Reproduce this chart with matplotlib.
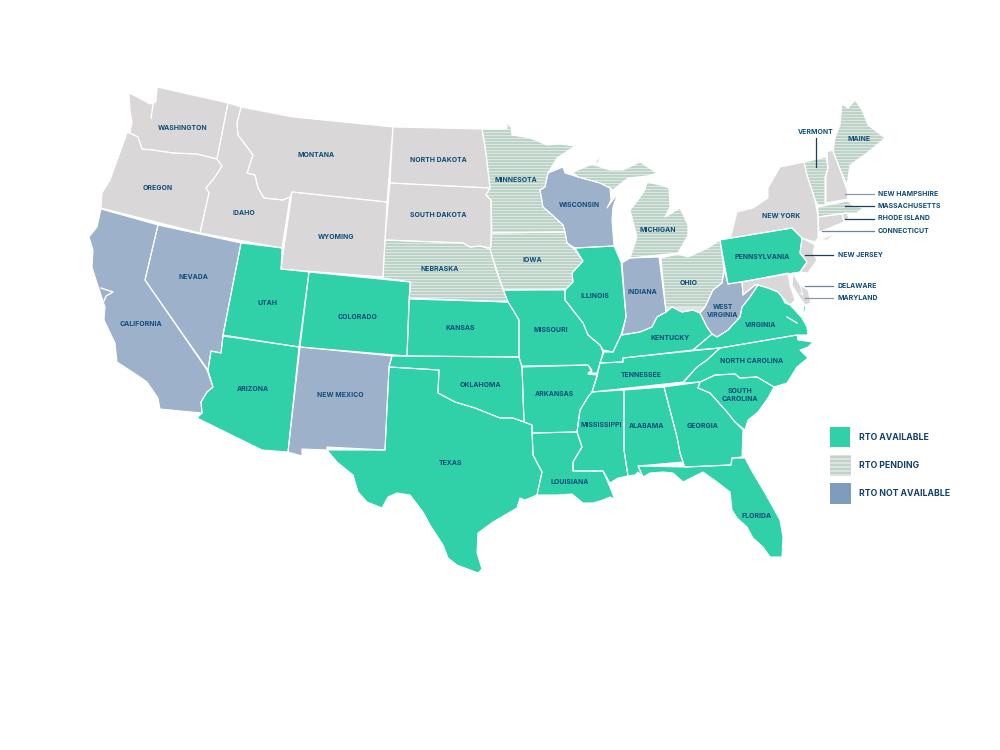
import matplotlib
matplotlib.use('Agg')
import matplotlib.pyplot as plt
from matplotlib.patches import Polygon, Rectangle

# state outlines, in image pixels
WASHINGTON = [(157,87),(228,103),(217,159),(197,154),(173,153),(153,150),(142,149),(138,137),(130,133),(131,127),(132,123),(130,110),(129,93),(139,98),(150,104),(156,102)]
OREGON = [(130,133),(138,137),(142,149),(153,150),(173,153),(197,154),(217,159),(222,166),(215,177),(206,188),(209,193),(200,233),(101,208),(102,193),(110,180),(122,147),(127,133)]
IDAHO = [(228,103),(241,107),(237,123),(238,135),(253,155),(247,173),(255,175),(258,188),(264,198),(283,200),(290,197),(282,248),(200,233),(209,193),(206,188),(215,177),(222,166),(217,159)]
MONTANA = [(241,107),(293,117),(393,127),(387,202),(292,192),(290,197),(283,200),(264,198),(258,188),(255,175),(247,173),(253,155),(238,135),(237,123)]
WYOMING = [(292,192),(387,202),(383,277),(281,269)]
NORTH_DAKOTA = [(393,127),(482,129),(486,153),(490,188),(390,183)]
SOUTH_DAKOTA = [(390,183),(490,188),(486,195),(491,200),(491,248),(480,246),(470,247),(463,243),(385,240)]
NEBRASKA = [(385,240),(463,243),(470,247),(480,246),(490,249),(500,280),(508,302),(409,298),(411,282),(383,278)]
MINNESOTA = [(482,129),(507,129),(507,123),(511,127),(512,135),(530,138),(547,145),(560,144),(575,146),(557,158),(548,173),(545,187),(540,190),(543,207),(550,213),(563,225),(565,232),(492,233),(491,200),(486,195),(490,188),(486,153)]
IOWA = [(492,233),(565,232),(567,243),(575,250),(583,261),(572,273),(573,282),(565,290),(503,290),(495,267),(490,249)]
WISCONSIN = [(548,173),(563,167),(565,173),(578,177),(600,183),(610,188),(611,200),(607,208),(618,193),(613,207),(612,220),(614,246),(575,248),(567,243),(565,232),(563,225),(550,213),(543,207),(540,190),(545,187)]
MICHIGAN_UP = [(573,172),(590,165),(598,163),(602,152),(594,165),(610,170),(623,170),(640,162),(657,173),(647,176),(628,178),(613,190),(610,188),(600,183),(578,177)]
MICHIGAN_LP = [(647,182),(660,185),(669,188),(670,207),(665,217),(680,208),(688,225),(688,235),(678,253),(630,258),(637,237),(630,210),(638,200),(645,190)]
ILLINOIS = [(575,248),(614,246),(621,262),(626,317),(621,335),(613,352),(603,350),(600,345),(588,335),(583,323),(565,300),(565,290),(573,282),(572,273),(583,261)]
INDIANA = [(622,263),(630,258),(659,257),(666,312),(657,317),(652,327),(640,332),(622,335),(626,317)]
OHIO = [(661,258),(678,254),(688,257),(708,248),(720,240),(724,270),(722,283),(713,290),(705,307),(700,313),(693,310),(682,312),(672,307),(666,312)]
KENTUCKY = [(621,335),(640,332),(652,327),(657,317),(666,312),(672,307),(682,312),(693,310),(700,313),(707,327),(712,334),(693,350),(623,358),(623,362),(600,363),(604,352),(613,352)]
TENNESSEE = [(600,363),(623,362),(623,358),(720,348),(707,360),(697,367),(683,382),(592,392),(597,377)]
NORTH_CAROLINA = [(720,348),(797,335),(798,340),(813,342),(808,347),(800,350),(808,358),(797,367),(787,383),(774,387),(757,377),(740,378),(735,374),(715,375),(700,382),(683,383),(697,367),(707,360)]
VIRGINIA = [(693,350),(712,334),(717,337),(728,330),(740,317),(742,307),(750,297),(758,285),(768,288),(778,292),(782,297),(792,307),(802,318),(807,327),(808,335),(797,335),(720,348)]
VA_TIP = [(804,306),(806,306),(804,314),(803,311)]
WEST_VIRGINIA = [(724,270),(728,284),(742,282),(743,295),(755,285),(758,285),(750,297),(742,307),(740,317),(728,330),(717,337),(712,334),(707,327),(700,313),(705,307),(713,290),(722,283)]
PENNSYLVANIA = [(720,240),(792,228),(802,238),(800,253),(807,262),(800,272),(728,284)]
MARYLAND = [(742,282),(788,273),(790,285),(795,300),(790,305),(785,303),(782,297),(778,292),(768,288),(758,285),(755,285),(743,295)]
DELMARVA = [(793,273),(800,285),(808,290),(811,303),(805,305),(798,295),(792,285)]
NEW_JERSEY = [(802,238),(815,245),(813,253),(817,260),(808,273),(800,272),(807,262),(800,253)]
NEW_YORK = [(730,238),(732,232),(737,212),(753,208),(768,198),(768,188),(780,167),(804,162),(807,175),(815,200),(818,217),(818,238),(815,242),(802,238),(792,228)]
LONG_ISLAND = [(820,240),(838,232),(827,240)]
VERMONT = [(804,162),(826,157),(828,168),(825,177),(825,205),(818,205),(815,200),(807,175)]
NEW_HAMPSHIRE = [(827,152),(833,150),(847,190),(848,199),(826,203),(826,177),(828,168)]
MAINE = [(842,104),(848,108),(855,100),(862,110),(868,125),(885,138),(867,153),(850,165),(847,185),(833,152),(835,138),(840,125)]
MASSACHUSETTS = [(818,207),(848,201),(852,205),(863,208),(857,213),(845,213),(818,217)]
CONNECTICUT = [(818,217),(842,214),(844,222),(822,231),(819,232)]
RHODE_ISLAND = [(842,214),(847,213),(849,218),(844,222)]
CALIFORNIA = [(101,209),(158,225),(145,280),(207,370),(213,387),(207,392),(201,402),(202,413),(160,409),(158,398),(147,382),(137,375),(117,362),(115,343),(104,320),(105,307),(97,283),(92,267),(93,250),(89,237),(97,227)]
NEVADA = [(158,225),(241,243),(223,335),(221,353),(211,351),(208,370),(145,280)]
UTAH = [(241,243),(282,248),(281,269),(309,272),(299,347),(223,335)]
COLORADO = [(309,272),(410,282),(407,356),(300,347)]
ARIZONA = [(223,336),(299,347),(288,452),(262,450),(197,418),(202,413),(201,402),(207,392),(213,387),(208,370),(211,351),(221,353)]
NEW_MEXICO = [(300,347),(392,356),(389,367),(385,450),(327,447),(327,450),(302,449),(302,456),(288,452)]
TEXAS = [(389,367),(439,370),(438,393),(455,402),(475,408),(500,418),(513,418),(524,422),(532,425),(533,455),(542,472),(537,495),(525,500),(520,498),(517,508),(493,522),(478,533),(477,553),(482,569),(478,573),(457,565),(448,558),(443,545),(430,525),(423,512),(410,495),(397,493),(388,497),(382,508),(367,502),(358,492),(353,475),(337,462),(327,450),(385,450)]
OKLAHOMA = [(392,356),(519,357),(522,367),(524,422),(513,418),(500,418),(475,408),(455,402),(438,393),(439,370),(389,367)]
KANSAS = [(409,299),(508,302),(513,310),(519,320),(519,357),(407,356)]
MISSOURI = [(503,290),(565,289),(565,300),(583,323),(588,335),(600,345),(603,352),(600,363),(597,373),(588,373),(592,370),(588,365),(522,367),(519,357),(519,320),(513,310),(508,302)]
ARKANSAS = [(522,366),(588,365),(592,372),(588,374),(597,375),(592,392),(588,397),(580,410),(577,432),(532,433),(532,425),(524,422)]
LOUISIANA = [(532,433),(577,432),(582,447),(573,462),(573,471),(603,471),(610,487),(615,500),(621,502),(610,497),(603,500),(593,503),(583,503),(572,494),(557,495),(537,495),(542,472),(533,455)]
MISSISSIPPI = [(592,392),(624,390),(624,450),(628,476),(618,478),(610,483),(603,471),(573,471),(573,462),(582,447),(577,432),(580,410),(588,397)]
ALABAMA = [(624,390),(664,387),(677,437),(680,453),(683,462),(638,466),(643,477),(638,472),(635,475),(628,476),(624,450)]
GEORGIA = [(664,387),(700,382),(698,388),(710,393),(727,412),(735,422),(743,430),(742,457),(732,458),(731,465),(685,467),(683,462),(680,453),(677,437)]
SOUTH_CAROLINA = [(700,382),(715,375),(735,374),(740,378),(757,377),(774,387),(768,398),(758,412),(748,420),(745,430),(735,422),(727,412),(710,393),(698,388)]
FLORIDA = [(638,466),(685,467),(731,465),(732,458),(745,458),(753,473),(765,493),(780,520),(783,537),(782,557),(770,557),(763,547),(753,538),(747,527),(737,518),(732,510),(730,492),(717,482),(703,472),(683,482),(673,473),(663,472),(650,473),(643,477)]

available = [UTAH, COLORADO, ARIZONA, TEXAS, OKLAHOMA, KANSAS, MISSOURI, ARKANSAS, LOUISIANA, MISSISSIPPI,
             ALABAMA, GEORGIA, SOUTH_CAROLINA, NORTH_CAROLINA, FLORIDA, TENNESSEE, KENTUCKY, ILLINOIS,
             VIRGINIA, VA_TIP, PENNSYLVANIA]
pending = [MINNESOTA, IOWA, NEBRASKA, MICHIGAN_UP, MICHIGAN_LP, OHIO, VERMONT, MAINE, MASSACHUSETTS]
not_available = [CALIFORNIA, NEVADA, NEW_MEXICO, WISCONSIN, INDIANA, WEST_VIRGINIA]
other = [WASHINGTON, OREGON, IDAHO, MONTANA, WYOMING, NORTH_DAKOTA, SOUTH_DAKOTA, NEW_YORK, LONG_ISLAND,
         NEW_HAMPSHIRE, CONNECTICUT, RHODE_ISLAND, NEW_JERSEY, MARYLAND, DELMARVA]

map_labels = [('WASHINGTON',183,128),('OREGON',158,188),('IDAHO',244,213),('MONTANA',316,155),('WYOMING',336,237),
              ('NORTH DAKOTA',438,160),('SOUTH DAKOTA',438,215),('NEBRASKA',440,269),('MINNESOTA',516,180),('IOWA',532,260),
              ('WISCONSIN',579,205),('MICHIGAN',658,230),('ILLINOIS',595,296),('INDIANA',642,292),('OHIO',689,283),
              ('KENTUCKY',670,338),('TENNESSEE',641,375),('NORTH CAROLINA',752,361),('VIRGINIA',761,325),
              ('PENNSYLVANIA',762,257),('NEW YORK',781,216),('MAINE',859,139),('CALIFORNIA',141,324),('NEVADA',193,277),
              ('UTAH',267,303),('COLORADO',358,317),('ARIZONA',253,389),('NEW MEXICO',340,395),('TEXAS',451,463),
              ('OKLAHOMA',480,385),('KANSAS',460,328),('MISSOURI',551,330),('ARKANSAS',554,394),('LOUISIANA',570,482),
              ('MISSISSIPPI',601,425),('ALABAMA',647,426),('GEORGIA',703,426),('SOUTH\nCAROLINA',740,395),('FLORIDA',757,516),
              ('WEST\nVIRGINIA',723,311)]
left_labels = [('NEW HAMPSHIRE',878,193.5),('MASSACHUSETTS',878,206),('RHODE ISLAND',878,218.5),('CONNECTICUT',878,231),
               ('NEW JERSEY',838,255),('DELAWARE',838,286),('MARYLAND',838,298)]
leader_x0 = [845, 845, 845, 822, 805, 805, 805]
leader_x1 = [874, 874, 874, 874, 833, 833, 833]
leader_col = ['#8a9aa8', '#1d3f5e', '#1d3f5e', '#6f8496', '#1d3f5e', '#6f8496', '#8a9aa8']

legend_names = ['RTO AVAILABLE', 'RTO PENDING', 'RTO NOT AVAILABLE']
legend_tops = [427, 455, 483]

GREEN = '#30d0a9'
GREY = '#d9d7d7'
BLUE = '#9db1cb'
STRIPE_BG = '#e0e5e1'
STRIPE = '#b3d1c4'
INK = '#0f4c78'

plt.rcParams['font.family'] = ['Inter', 'DejaVu Sans']

fig = plt.figure(figsize=(10, 7.5), dpi=100)
ax = fig.add_axes([0, 0, 1, 1])
ax.set_xlim(0, 1000)
ax.set_ylim(750, 0)
ax.axis('off')

def fill_states(states, color):
    for s in states:
        ax.add_patch(Polygon(s, closed=True, fc=color, ec='none', zorder=1))

fill_states(available, GREEN)
fill_states(other, GREY)
fill_states(not_available, BLUE)
fill_states(pending, STRIPE_BG)

# the pending pattern is thin lines clipped to each state
stripe_rows = [98 + 3.0*i for i in range(70)]
for s in pending:
    clip = Polygon(s, closed=True, fc='none', ec='none', transform=ax.transData)
    ax.add_patch(clip)
    lines = ax.hlines(stripe_rows, 0, 1000, color=STRIPE, lw=1.2, zorder=2)
    lines.set_clip_path(clip)

for group in (available, other, not_available, pending):
    for s in group:
        ax.add_patch(Polygon(s, closed=True, fc='none', ec='white', lw=0.8, joinstyle='round', zorder=3))

# Puget sound, SF bay, Chesapeake mouth, Delaware line
ax.plot([157,153,151], [90,105,118], color='white', lw=1.0, zorder=4)
ax.plot([101,113,106,104], [288,292,296,301], color='white', lw=1.0, zorder=4)
ax.plot([787,797], [317,323], color='white', lw=1.0, zorder=4)
ax.plot([793,800,803,800], [273,285,295,293], color='white', lw=0.7, zorder=4)

for name, x, y in map_labels:
    ax.text(x, y, name, ha='center', va='center', fontsize=4.95, fontweight='bold', color=INK,
            linespacing=1.3, zorder=5)
for (name, x, y), x0, x1, c in zip(left_labels, leader_x0, leader_x1, leader_col):
    ax.text(x, y, name, ha='left', va='center', fontsize=4.95, fontweight='bold', color=INK, zorder=5)
    ax.plot([x0, x1], [y, y], color=c, lw=0.9, zorder=5)

ax.text(816, 132, 'VERMONT', ha='center', va='center', fontsize=4.95, fontweight='bold', color=INK, zorder=5)
ax.plot([816, 816], [138, 167], color='#1d3f5e', lw=0.9, zorder=5)

# legend
ax.add_patch(Rectangle((830, legend_tops[0]), 20, 20, fc=GREEN, ec='none'))
ax.add_patch(Rectangle((830, legend_tops[1]), 21, 21, fc='#dfe3df', ec='none'))
ax.hlines([legend_tops[1] + d for d in (2, 6, 10, 14, 18)], 830, 851, color='#b5cfc4', lw=1.1)
ax.add_patch(Rectangle((830, legend_tops[2]), 21, 21, fc='#7f9cbd', ec='none'))
for name, top in zip(legend_names, legend_tops):
    ax.text(859, top + 10, name, ha='left', va='center', fontsize=6.25, fontweight='bold', color='#123f6b')

fig.savefig('out.png', dpi=100)
